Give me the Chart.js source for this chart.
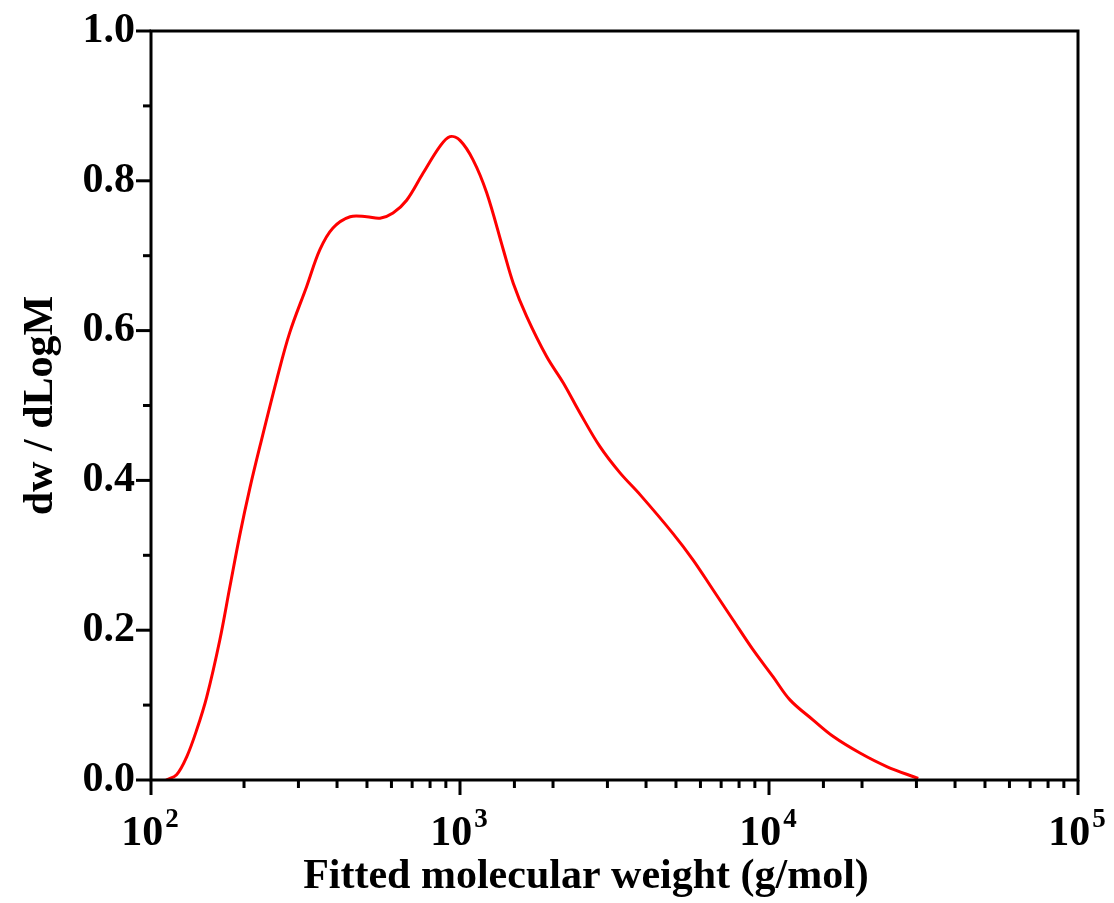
<!DOCTYPE html>
<html>
<head>
<meta charset="utf-8">
<script src="https://cdn.jsdelivr.net/npm/chart.js@4/dist/chart.umd.min.js"></script>
<style>
html,body{margin:0;padding:0;background:#fff;}
#wrap{width:1114px;height:903px;position:relative;}
</style>
</head>
<body>
<div id="wrap"><canvas id="c" width="1114" height="903"></canvas></div>
<script>
// Molecular weight (g/mol)
const molWeight = [112, 121, 130.5, 140.6, 151.5, 167, 180, 194, 209, 225, 255, 281, 319, 352, 388, 441, 499, 551, 607, 672, 759, 861, 928, 1000, 1102, 1220, 1381, 1488, 1643, 1909, 2160, 2445, 2838, 3295, 3825, 4891, 5675, 6588, 7643, 8875, 10300, 11690, 13900, 16150, 19700, 24040, 30400];
// dw / dLogM
const dwdlogM = [0, 0.007, 0.031, 0.067, 0.111, 0.187, 0.258, 0.328, 0.390, 0.445, 0.534, 0.597, 0.659, 0.708, 0.737, 0.752, 0.752, 0.750, 0.757, 0.774, 0.810, 0.846, 0.859, 0.854, 0.828, 0.784, 0.708, 0.663, 0.619, 0.565, 0.530, 0.490, 0.445, 0.410, 0.381, 0.329, 0.294, 0.254, 0.214, 0.174, 0.138, 0.107, 0.080, 0.058, 0.036, 0.018, 0.002];
// x tick labels: base 10 with exponent
const xTickValues = [100, 1000, 10000, 100000];
const xTickExponents = ['2', '3', '4', '5'];
const yTickLabels = ['0.0', '0.2', '0.4', '0.6', '0.8', '1.0'];
const xTitle = 'Fitted molecular weight (g/mol)';
const yTitle = 'dw / dLogM';

const points = molWeight.map((m, i) => ({x: m, y: dwdlogM[i]}));
const FONT = "'Liberation Serif','Times New Roman',serif";

const L = 151, R = 1078, T = 31, B = 780;

const tickPlugin = {
  id: 'ticksFrame',
  afterDraw(chart) {
    const ctx = chart.ctx;
    const xs = chart.scales.x, ys = chart.scales.y;
    const a = chart.chartArea;
    ctx.save();
    ctx.strokeStyle = '#000';
    ctx.lineWidth = 3;
    ctx.lineCap = 'butt';
    // y ticks
    ys.ticks.forEach(t => {
      const v = Math.round(t.value * 10);
      const p = ys.getPixelForValue(t.value);
      const len = (v % 2 === 0) ? 15 : 8;
      ctx.beginPath();
      ctx.moveTo(a.left, p);
      ctx.lineTo(a.left - len, p);
      ctx.stroke();
    });
    // x ticks
    xs.ticks.forEach(t => {
      const lg = Math.log10(t.value);
      const major = Math.abs(lg - Math.round(lg)) < 1e-6;
      const p = xs.getPixelForValue(t.value);
      const len = major ? 15 : 8;
      ctx.beginPath();
      ctx.moveTo(p, a.bottom);
      ctx.lineTo(p, a.bottom + len);
      ctx.stroke();
    });
    // frame
    ctx.strokeRect(a.left, a.top, a.right - a.left, a.bottom - a.top);

    // x tick labels with superscript exponent
    ctx.fillStyle = '#000';
    ctx.textBaseline = 'alphabetic';
    const baseFont = 'bold 42px ' + FONT;
    const supFont = 'bold 27px ' + FONT;
    xTickValues.forEach((v, i) => {
      const p = xs.getPixelForValue(v);
      ctx.font = baseFont;
      const wb = ctx.measureText('10').width;
      ctx.font = supFont;
      const we = ctx.measureText(xTickExponents[i]).width;
      const x0 = p - (wb + we + 2) / 2 - 1;
      ctx.font = baseFont;
      ctx.textAlign = 'left';
      ctx.fillText('10', x0, a.bottom + 65);
      ctx.font = supFont;
      ctx.fillText(xTickExponents[i], x0 + wb + 2, a.bottom + 47);
    });
    // x title
    ctx.font = 'bold 42px ' + FONT;
    ctx.textAlign = 'center';
    ctx.fillText(xTitle, 586, 888);
    ctx.restore();
  }
};

new Chart(document.getElementById('c'), {
  type: 'line',
  data: {
    datasets: [{
      data: points,
      borderColor: '#ff0000',
      borderWidth: 3,
      pointRadius: 0,
      fill: false,
      tension: 0.35
    }]
  },
  options: {
    responsive: false,
    animation: false,
    devicePixelRatio: 1,
    layout: {padding: {left: 0, top: T, right: 1114 - R, bottom: 0}},
    plugins: {legend: {display: false}, tooltip: {enabled: false}},
    scales: {
      x: {
        type: 'logarithmic',
        min: 100,
        max: 100000,
        afterFit(s) { s.height = 903 - B; s.paddingLeft = 0; s.paddingRight = 0; s.paddingTop = 0; s.paddingBottom = 0; },
        grid: {display: true, drawOnChartArea: false, drawTicks: false, color: 'rgba(0,0,0,0)'},
        border: {display: false},
        ticks: {
          display: false,
          autoSkip: false,
          maxRotation: 0
        },
        title: {display: false}
      },
      y: {
        min: 0,
        max: 1,
        afterFit(s) { s.width = L; s.paddingLeft = 0; s.paddingRight = 0; s.paddingTop = 0; s.paddingBottom = 0; },
        grid: {display: true, drawOnChartArea: false, drawTicks: false, color: 'rgba(0,0,0,0)'},
        border: {display: false},
        ticks: {
          stepSize: 0.1,
          autoSkip: false,
          padding: 16,
          color: '#000',
          font: {family: FONT, size: 42, weight: 'bold'},
          callback: (v) => {
            const k = Math.round(v * 10);
            return k % 2 === 0 ? yTickLabels[k / 2] : '';
          }
        },
        title: {
          display: true,
          text: yTitle,
          color: '#000',
          font: {family: FONT, size: 42, weight: 'bold'},
          padding: {top: 16, bottom: 0}
        }
      }
    }
  },
  plugins: [tickPlugin]
});
</script>
</body>
</html>
